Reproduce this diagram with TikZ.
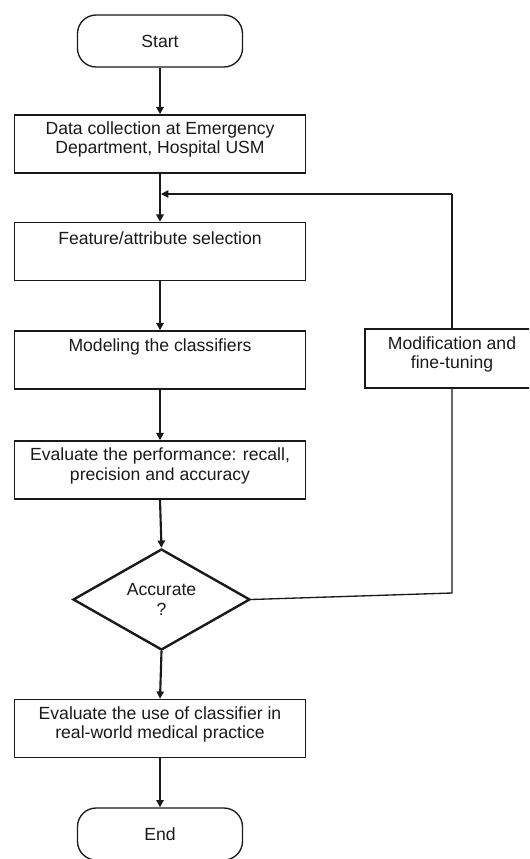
\documentclass[tikz,border=0pt]{standalone}
\usepackage{fontspec}
\setmainfont{Liberation Sans}
\usetikzlibrary{arrows.meta,shapes.geometric}
\definecolor{ink}{HTML}{1A1A1A}
\tikzset{
  box/.style={draw=ink, line width=1.1pt, minimum width=218.25pt, minimum height=43.5pt, inner sep=0pt},
  term/.style={draw=ink, line width=1pt, rounded corners=14pt, minimum width=123.75pt, minimum height=39pt, inner sep=0pt},
  txt/.style={align=center, inner sep=0pt, font=\fontsize{13.2pt}{14.4pt}\selectfont, text=ink},
  arr/.style={draw=ink, line width=1.6pt, -{Triangle[width=5.5pt,length=5.5pt]}},
  loopline/.style={draw=ink, line width=1pt},
}
\begin{document}
\begin{tikzpicture}[x=0.75pt, y=-0.75pt]
\path[use as bounding box] (0,0) rectangle (529,859);
\clip (0,0) rectangle (529,859);
\fill[white] (0,0) rectangle (529,859);

% terminals
\node[term, txt] (start) at (160,41) {Start};
\node[term, txt] (end) at (160,834) {End};

% process boxes
\node[box] (b1) at (160,144) {};
\node[txt] (t1) at (160,139.5) {Data collection at Emergency\\Department, Hospital USM};
\node[box] (b2) at (160,251.5) {};
\node[txt] (t2) at (160,238) {Feature/attribute selection};
\node[box] (b3) at (160,360) {};
\node[txt] (t3) at (160,347) {Modeling the classifiers};
\node[box] (b4) at (160,470) {};
\node[txt] (t4) at (160,466) {Evaluate the performance: recall,\\precision and accuracy};
\node[box] (b5) at (160,728.5) {};
\node[txt] (t5) at (160,724.5) {Evaluate the use of classifier in\\real-world medical practice};

% decision
\node[draw=ink, line width=1.8pt, diamond, shape aspect=1.75, minimum width=132.75pt, minimum height=75.75pt, inner sep=0pt, txt] (dec) at (161.5,599.5) {Accurate\\?};

% modification box
\node[draw=ink, line width=1.1pt, minimum width=130.5pt, minimum height=44.25pt, inner sep=0pt] (mod) at (452,358.5) {};
\node[txt] (tm) at (452,354.5) {Modification and\\fine-tuning};

% main flow
\draw[arr] (start.south) -- (b1.north);
\draw[arr] (b1.south) -- (b2.north);
\draw[arr] (b2.south) -- (b3.north);
\draw[arr] (b3.south) -- (b4.north);
\draw[arr] (b4.south) -- (dec.north);
\draw[arr] (dec.south) -- (b5.north);
\draw[arr] (b5.south) -- (end.north);

% loop
\coordinate (c1) at (452,593);
\coordinate (c2) at (452,194);
\coordinate (j) at (161,194);
\draw[loopline] (dec.east) -- (c1) -- (mod.south);
\draw[loopline] (mod.north) -- (c2);
\draw[arr, line width=1pt] (c2) -- (j);
\end{tikzpicture}
\end{document}
